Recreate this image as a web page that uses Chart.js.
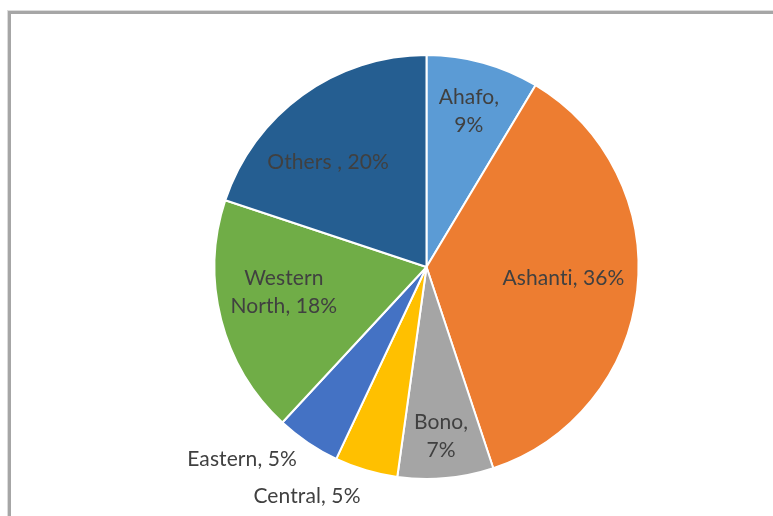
<!DOCTYPE html>
<html>
<head>
<meta charset="utf-8">
<script src="https://cdn.jsdelivr.net/npm/chart.js@4"></script>
<style>
  html, body { margin: 0; padding: 0; background: #fff; overflow: hidden; }
  #wrap { position: relative; width: 773px; height: 516px; }
  #frame {
    position: absolute; left: 8px; top: 11px; width: 800px; height: 540px;
    border-top: 3px solid #a6a6a6; border-left: 3px solid #a6a6a6;
    box-shadow: -1px -1px 0 #dcdcdc;
  }
  #chart { position: absolute; left: 0; top: 0; }
</style>
</head>
<body>
<div id="wrap">
  <div id="frame"></div>
  <canvas id="chart" width="773" height="516"></canvas>
</div>
<script>
// Data
const regions = ["Ahafo", "Ashanti", "Bono", "Central", "Eastern", "Western North", "Others "];
const shares = [8.6, 36.3, 7.3, 4.8, 4.9, 18.2, 19.9];
const colors = ["#5B9BD5", "#ED7D31", "#A5A5A5", "#FFC000", "#4472C4", "#70AD47", "#255E91"];

// label placement: fraction of radius along mid angle, pixel nudge, line split
const labelPos = [
  { frac: 0.75, dx: 0, dy: -3, split: ", " },
  { frac: 0.65, dx: 0, dy: -3.5, split: null },
  { frac: 0.81, dx: -1, dy: -2, split: ", " },
  { frac: 1.15, dx: -50, dy: -4, split: null },
  { frac: 1.15, dx: -48, dy: -10, split: null },
  { frac: 0.69, dx: -1, dy: -11, split: " " },
  { frac: 0.68, dx: -14, dy: 12, split: null },
];

function splitLabel(text, sep) {
  if (!sep) return [text];
  const i = text.indexOf(sep);
  return [text.slice(0, i + sep.trimEnd().length), text.slice(i + sep.length)];
}

const sliceLabels = {
  id: "sliceLabels",
  afterDatasetsDraw(chart) {
    const ctx = chart.ctx;
    const meta = chart.getDatasetMeta(0);
    ctx.save();
    ctx.font = "21px Lato";
    ctx.letterSpacing = "0.1px"; // keeps "ti" from turning into a ligature
    ctx.fillStyle = "#404040";
    ctx.textAlign = "center";
    ctx.textBaseline = "middle";
    meta.data.forEach((arc, i) => {
      const p = arc.getProps(["x", "y", "startAngle", "endAngle", "outerRadius"], true);
      const mid = (p.startAngle + p.endAngle) / 2;
      const r = p.outerRadius * labelPos[i].frac;
      const x = p.x + Math.cos(mid) * r + labelPos[i].dx;
      const y = p.y + Math.sin(mid) * r + labelPos[i].dy;
      const text = regions[i] + ", " + Math.round(shares[i]) + "%";
      const lines = splitLabel(text, labelPos[i].split);
      const lh = 28;
      lines.forEach((line, k) => {
        ctx.fillText(line, x, y + (k - (lines.length - 1) / 2) * lh);
      });
    });
    ctx.restore();
  },
};

new Chart(document.getElementById("chart"), {
  type: "pie",
  data: {
    labels: regions,
    datasets: [
      {
        data: shares,
        backgroundColor: colors,
        borderColor: "#ffffff",
        borderWidth: 2,
        radius: 212,
      },
    ],
  },
  options: {
    responsive: false,
    animation: false,
    layout: { padding: { left: 80, right: 0, top: 18, bottom: 0 } },
    plugins: {
      legend: { display: false },
      tooltip: { enabled: false },
    },
  },
  plugins: [sliceLabels],
});
</script>
</body>
</html>
